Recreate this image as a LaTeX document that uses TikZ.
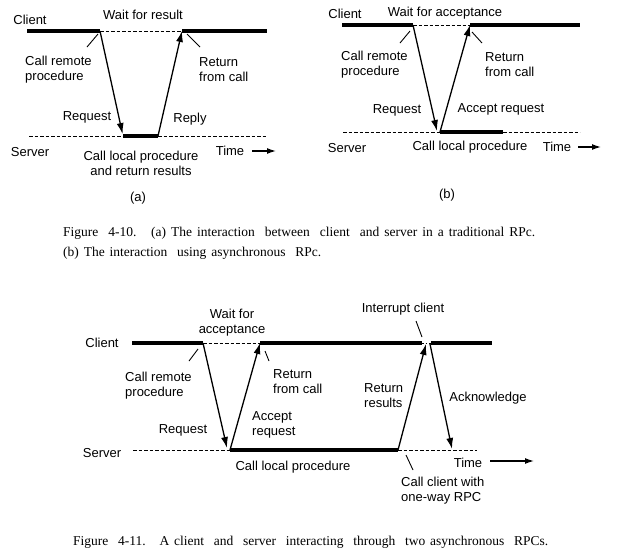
\documentclass[tikz,border=0pt]{standalone}
\usepackage{fontspec}
\setmainfont{Liberation Sans}
\newfontfamily\capfont{Liberation Serif}
\usetikzlibrary{arrows.meta}
\begin{document}
\begin{tikzpicture}[x=1pt,y=-1pt,
  lbl/.style={font=\fontsize{13}{15}\selectfont, inner sep=0pt},
  lblw/.style={lbl, anchor=west, align=left},
  captxt/.style={font=\capfont\fontsize{13.5}{16}\selectfont, inner sep=0pt, anchor=west},
  busy/.style={line width=3.4pt},
  idle/.style={line width=0.9pt, dash pattern=on 3.5pt off 2pt},
  msg/.style={line width=1.3pt, -{Latex[length=11pt,width=7pt]}},
  leader/.style={line width=0.9pt},
  timearrow/.style={line width=1.3pt, -{Latex[length=9pt,width=6pt]}}]
\useasboundingbox (0,0) rectangle (633,552);
\fill[white] (0,0) rectangle (633,552);

% ================= Figure (a) =================
\coordinate (a1) at (27,31);
\coordinate (a2) at (100,31);
\coordinate (a3) at (182,31);
\coordinate (a4) at (267,31);
\coordinate (as1) at (29,136);
\coordinate (as2) at (123,136);
\coordinate (as3) at (158,136);
\coordinate (as4) at (267,136);
\draw[busy] (a1) -- (a2);
\draw[idle] (a2) -- (a3);
\draw[busy] (a3) -- (a4);
\draw[idle] (as1) -- (as2);
\draw[busy] (as2) -- (as3);
\draw[idle] (as3) -- (as4);
\draw[msg, shorten >=2pt] (a2) -- (as2);
\draw[msg] (as3) -- (a3);
\node[lbl] (aclient) at (30,20) {Client};
\node[lbl] (await) at (143,15) {Wait for result};
\node[lblw] (acall) at (25,69.5) {Call remote\\procedure};
\coordinate (acl1) at (87,47); \coordinate (acl2) at (98,34);
\draw[leader] (acl1) -- (acl2);
\node[lblw] (aret) at (199,69.5) {Return\\from call};
\coordinate (arl1) at (200,47); \coordinate (arl2) at (187,34);
\draw[leader] (arl1) -- (arl2);
\node[lbl] (areq) at (87,117) {Request};
\node[lbl] (arep) at (190,119) {Reply};
\node[lbl] (aserver) at (30,152) {Server};
\node[lbl, align=center] (alocal) at (141,163) {Call local procedure\\and return results};
\node[lbl] (atime) at (230,151) {Time};
\coordinate (ata1) at (252,151); \coordinate (ata2) at (276,151);
\draw[timearrow] (ata1) -- (ata2);
\node[lbl] (alab) at (138,198) {(a)};

% ================= Figure (b) =================
\coordinate (b1) at (342,25);
\coordinate (b2) at (413,25);
\coordinate (b3) at (470,25);
\coordinate (b4) at (580,25);
\coordinate (bs1) at (343,132);
\coordinate (bs2) at (440,132);
\coordinate (bs3) at (503,132);
\coordinate (bs4) at (580,132);
\draw[busy] (b1) -- (b2);
\draw[idle] (b2) -- (b3);
\draw[busy] (b3) -- (b4);
\draw[idle] (bs1) -- (bs2);
\draw[busy] (bs2) -- (bs3);
\draw[idle] (bs3) -- (bs4);
\coordinate (breqend) at (437,131);
\draw[msg] (b2) -- (breqend);
\draw[msg] (bs2) -- (b3);
\node[lbl] (bclient) at (345,14) {Client};
\node[lbl] (bwait) at (445,13) {Wait for acceptance};
\node[lblw] (bcall) at (341,64.5) {Call remote\\procedure};
\coordinate (bcl1) at (400,43); \coordinate (bcl2) at (410,31);
\draw[leader] (bcl1) -- (bcl2);
\node[lblw] (bret) at (485,64.5) {Return\\from call};
\coordinate (brl1) at (482,43); \coordinate (brl2) at (472,32);
\draw[leader] (brl1) -- (brl2);
\node[lbl] (breq) at (397,110) {Request};
\node[lbl] (bacc) at (501,109) {Accept request};
\node[lbl] (bserver) at (347,148) {Server};
\node[lbl] (blocal) at (470,147) {Call local procedure};
\node[lbl] (btime) at (557,147) {Time};
\coordinate (bta1) at (578,147); \coordinate (bta2) at (601,147);
\draw[timearrow] (bta1) -- (bta2);
\node[lbl] (blab) at (447,195) {(b)};

% ================= Caption 4-10 =================
\node[captxt] (cap1) at (63,233) {\makebox[472pt][s]{Figure \ 4-10. \ (a) The interaction \ between \ client \ and server in a traditional RPc.}};
\node[captxt] (cap2) at (63,253) {\makebox[258pt][s]{(b) The interaction \ using asynchronous \ RPc.}};

% ================= Figure 4-11 =================
\coordinate (c1) at (132,343);
\coordinate (c2) at (203,343);
\coordinate (c3) at (260,343);
\coordinate (c4) at (422,343);
\coordinate (c5) at (431,343);
\coordinate (c6) at (492,343);
\coordinate (d1) at (133,450);
\coordinate (d2) at (230,450);
\coordinate (d3) at (398,450);
\coordinate (d4) at (477,450);
\draw[busy] (c1) -- (c2);
\draw[idle] (c2) -- (c3);
\draw[busy] (c3) -- (c4);
\draw[line width=0.9pt, dash pattern=on 1.5pt off 2pt] (c4) -- (c5);
\draw[busy] (c5) -- (c6);
\draw[idle] (d1) -- (d2);
\draw[busy] (d2) -- (d3);
\draw[idle] (d3) -- (d4);
\coordinate (creqend) at (227,448);
\draw[msg] (c2) -- (creqend);
\draw[msg] (d2) -- (c3);
\coordinate (cretend) at (426,344);
\draw[msg] (d3) -- (cretend);
\coordinate (cackstart) at (430,344);
\coordinate (cackend) at (452,449);
\draw[msg] (cackstart) -- (cackend);
\node[lbl] (cclient) at (102,343) {Client};
\node[lbl, align=center] (cwait) at (232,323) {Wait for\\acceptance};
\node[lblw] (ccall) at (125,385.5) {Call remote\\procedure};
\coordinate (ccl1) at (189,361); \coordinate (ccl2) at (198,349);
\draw[leader] (ccl1) -- (ccl2);
\node[lblw] (cret) at (273,381.5) {Return\\from call};
\coordinate (crl1) at (269,361); \coordinate (crl2) at (265,351);
\draw[leader] (crl1) -- (crl2);
\node[lbl] (creq) at (183,430) {Request};
\node[lblw] (cacc) at (252,424.5) {Accept\\request};
\node[lbl] (cserver) at (102,453) {Server};
\node[lbl] (clocal) at (293,467) {Call local procedure};
\node[lbl] (cint) at (403,309) {Interrupt client};
\coordinate (cil1) at (416,321); \coordinate (cil2) at (422,337);
\draw[leader] (cil1) -- (cil2);
\node[lblw] (cres) at (364,395.5) {Return\\results};
\node[lbl] (cack) at (488,398) {Acknowledge};
\node[lbl] (ctime) at (468,463) {Time};
\coordinate (cta1) at (490,461); \coordinate (cta2) at (534,461);
\draw[timearrow] (cta1) -- (cta2);
\coordinate (ccw1) at (406,455); \coordinate (ccw2) at (413,470);
\draw[leader] (ccw1) -- (ccw2);
\node[lblw] (ccw) at (401,490.5) {Call client with\\one-way RPC};

% ================= Caption 4-11 =================
\node[captxt] (cap3) at (73,542) {\makebox[475pt][s]{Figure \ 4-11. \ A client \ and \ server \ interacting \ through \ two asynchronous \ RPCs.}};
\end{tikzpicture}
\end{document}
